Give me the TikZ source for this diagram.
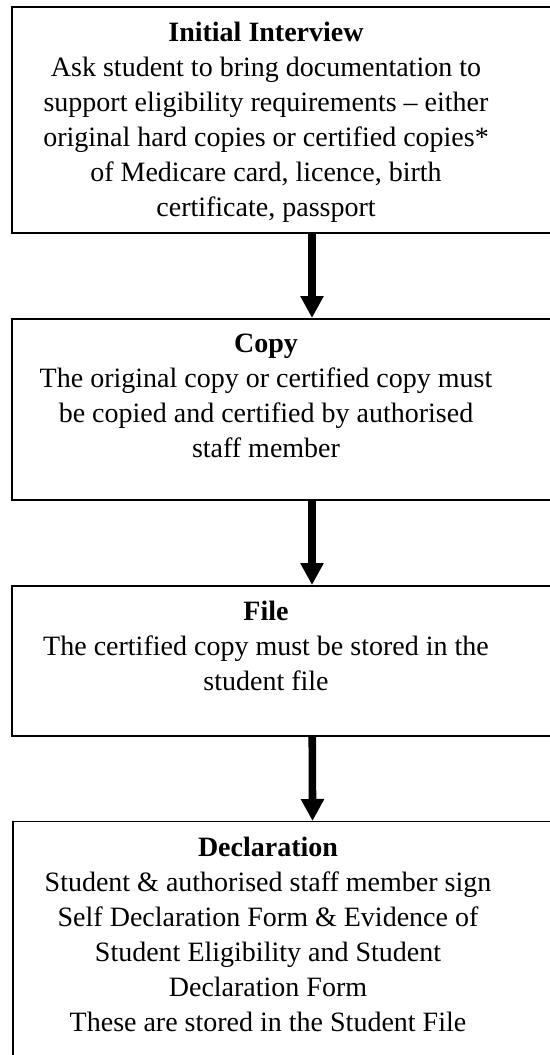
\documentclass[tikz,border=0pt]{standalone}
\usepackage{fontspec}
\setmainfont{Liberation Serif}
\usetikzlibrary{positioning,
                arrows.meta}                % arrow tips

\tikzset{
  stepbox/.style={draw, line width=0.9pt, minimum width=300pt, anchor=north, inner sep=0pt},
  steptext/.style={align=center, anchor=north, inner sep=0pt,
                   font=\fontsize{14}{17.5}\selectfont},
  flow/.style={line width=3.8pt, -{Triangle[width=11pt,length=11pt]}}
}

\begin{document}
\begin{tikzpicture}[x=0.5pt, y=-0.5pt]
      \path[use as bounding box, clip] (0,0) rectangle (550,1055);

      % the four steps
      \node[stepbox, minimum height=113pt] (interview) at (312,6) {};
      \node[steptext] (interviewtext) at (266,22)
        {\textbf{Initial Interview}\\
         Ask student to bring documentation to\\
         support eligibility requirements – either\\
         original hard copies or certified copies*\\
         of Medicare card, licence, birth\\
         certificate, passport};

      \node[stepbox, minimum height=90.5pt] (copy) at (312,318) {};
      \node[steptext] (copytext) at (266,334)
        {\textbf{Copy}\\
         The original copy or certified copy must\\
         be copied and certified by authorised\\
         staff member};

      \node[stepbox, minimum height=75pt] (file) at (312,585) {};
      \node[steptext] (filetext) at (266,601)
        {\textbf{File}\\
         The certified copy must be stored in the\\
         student file};

      \node[stepbox, line width=0.7pt, minimum height=130pt] (declaration) at (313,821) {};
      \node[steptext] (declarationtext) at (268,837)
        {\textbf{Declaration}\\
         Student \& authorised staff member sign\\
         Self Declaration Form \& Evidence of\\
         Student Eligibility and Student\\
         Declaration Form\\
         These are stored in the Student File};

      % arrows between them
      \draw[flow] (interview) -- (copy);
      \draw[flow] (copy) -- (file);
      \draw[flow] (file) -- (declaration);

    \end{tikzpicture}
\end{document}
